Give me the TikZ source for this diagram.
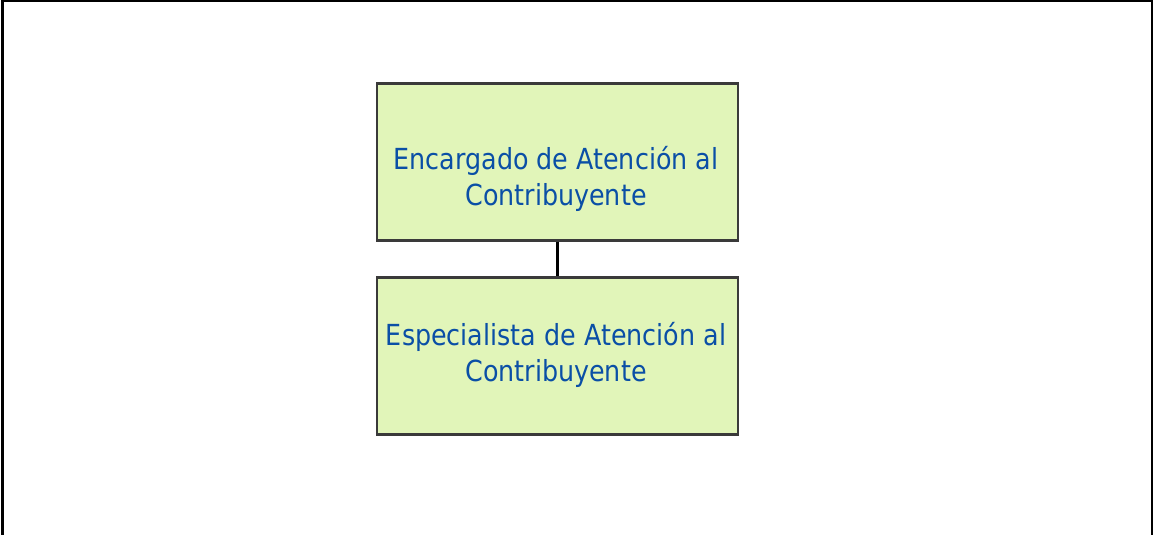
\documentclass[tikz,border=0pt]{standalone}
\usepackage{fontspec}
\newfontfamily\boxfont[FakeStretch=0.875]{DejaVu Sans}
\definecolor{boxfill}{HTML}{E1F5B9}
\definecolor{boxtext}{HTML}{0A4FA6}
\definecolor{boxline}{HTML}{3A3A3A}
\tikzset{
  orgbox/.style={draw=boxline, line width=2.6pt, fill=boxfill, minimum width=361pt, minimum height=157pt, inner sep=0pt, anchor=north west},
  orgtext/.style={text=boxtext, font=\boxfont\fontsize{29pt}{36pt}\selectfont, align=center, anchor=base, inner sep=0pt},
  conn/.style={draw=black, line width=2.6pt}
}
\begin{document}
\begin{tikzpicture}[x=1pt,y=-1pt]
\useasboundingbox (0,0) rectangle (1154,535);
\draw[line width=2.5pt] (2.5,535) -- (2.5,1) -- (1152,1) -- (1152,535);
\node[orgbox] (enc) at (375.5,82) {};
\node[orgbox] (esp) at (375.5,276) {};
\node[orgtext] (enct) at (556,205) {Encargado de Atención al\\Contribuyente};
\node[orgtext] (espt) at (556,381) {Especialista de Atención al\\Contribuyente};
\draw[conn] (enc.south) -- (esp.north);
\end{tikzpicture}
\end{document}
